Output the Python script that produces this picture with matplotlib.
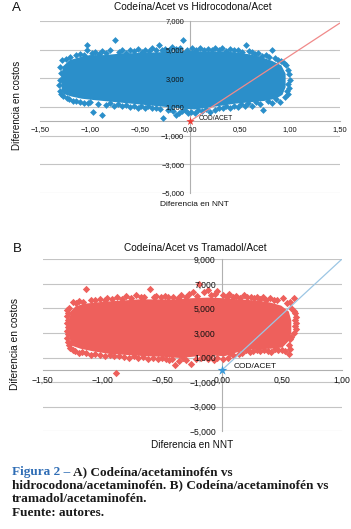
import matplotlib
matplotlib.use("Agg")
import matplotlib.pyplot as plt

# ---------------- data ----------------
# Panel A: Codeína/Acet vs Hidrocodona/Acet (dense core outline + ragged edge / outlier points)
a_core_x = [-1.27, -1.28, -1.26, -1.20, -1.10, -1.00, -0.85, -0.70, -0.50, -0.30, -0.15, 0.00, 0.15, 0.30,
            0.45, 0.60, 0.70, 0.82, 0.91, 0.95, 0.95, 0.92, 0.86, 0.75, 0.60, 0.45, 0.30, 0.15, 0.05, -0.05,
            -0.20, -0.35, -0.50, -0.65, -0.80, -0.95, -1.08, -1.18, -1.25]
a_core_y = [2100, 3000, 3800, 4200, 4400, 4550, 4550, 4650, 4700, 4750, 4800, 4850, 4800, 4800,
            4750, 4600, 4450, 4150, 3850, 3300, 2400, 1900, 1650, 1500, 1400, 1300, 1150, 1000, 900, 950,
            1050, 1150, 1250, 1350, 1450, 1550, 1650, 1800, 1950]
a_pts_x = [-1.28, -1.24, -1.20, -1.14, -1.10, -1.06, -1.03, -1.03, -0.98, -0.95, -0.91, -0.88, -0.84, -0.80,
           -0.75, -0.71, -0.68, -0.64, -0.60, -0.56, -0.52, -0.48, -0.45, -0.41, -0.38, -0.34, -0.31, -0.28,
           -0.25, -0.21, -0.18, -0.14, -0.10, -0.07, -0.03, 0.02, 0.06, 0.10, 0.14, 0.18, 0.22, 0.25, 0.29,
           0.32, 0.36, 0.40, 0.44, 0.48, 0.52, 0.56, 0.59, 0.62, 0.65, 0.68, 0.72, 0.76, 0.79, 0.82, 0.85,
           0.88, 0.91, 0.94, 0.96, 0.98, 0.99, 1.00, 0.98, 0.99, 0.97, 0.98, 0.95, 0.90, 0.86, 0.82, 0.78,
           0.73, 0.70, 0.66, 0.62, 0.58, 0.55, 0.51, 0.48, 0.44, 0.40, 0.36, 0.33, 0.29, 0.25, 0.20, 0.16,
           0.12, 0.08, 0.05, 0.01, -0.02, -0.05, -0.08, -0.11, -0.14, -0.17, -0.20, -0.22, -0.27, -0.30,
           -0.34, -0.38, -0.42, -0.45, -0.49, -0.52, -0.56, -0.60, -0.64, -0.68, -0.72, -0.76, -0.80, -0.84,
           -0.88, -0.92, -0.97, -1.00, -1.02, -1.06, -1.10, -1.14, -1.17, -1.21, -1.23, -1.27, -1.29, -1.30,
           -1.31, -1.30, -1.29, -1.30]
a_pts_y = [4260, 4350, 4500, 4600, 4700, 4650, 4950, 5300, 4750, 4850, 4700, 4900, 4800, 4950,
           5650, 4850, 4950, 4800, 5000, 4900, 5050, 4850, 4950, 4900, 5100, 4950, 5300, 5000,
           5050, 4950, 5200, 5050, 5150, 5650, 5000, 5150, 4950, 5100, 5000, 5050, 4950, 5150, 5000,
           5100, 4900, 5050, 4950, 5000, 4850, 5330, 4900, 4850, 4700, 4750, 4550, 4600, 4500, 4950, 4450,
           4300, 4200, 4050, 3900, 3600, 3300, 2900, 2600, 2300, 2100, 1900, 1700, 1350, 1550, 1300, 1450,
           770, 1200, 1350, 1100, 1250, 1100, 1200, 1000, 1100, 950, 1050, 900, 950, 800, 650, 850,
           700, 800, 550, 650, 600, 800, 750, 600, 420, 700, 850, 800, 260, 850,
           950, 900, 1050, 950, 1100, 900, 1050, 1000, 1150, 1050, 1200, 1100, 1250, 1150,
           420, 1200, 650, 1350, 1300, 1250, 1350, 1400, 1450, 1550, 1650, 1750, 1900, 2100,
           2500, 2900, 3400, 3800]
a_line_x = [0.0, 1.5]
a_line_y = [0, 6840]
a_star = (0.0, 0.0)

# Panel B: Codeína/Acet vs Tramadol/Acet
b_core_x = [-1.26, -1.27, -1.26, -1.22, -1.15, -1.00, -0.85, -0.70, -0.55, -0.40, -0.25, -0.10, 0.00, 0.15,
            0.30, 0.40, 0.49, 0.55, 0.57, 0.57, 0.55, 0.50, 0.40, 0.25, 0.12, 0.02, -0.08, -0.20, -0.35,
            -0.50, -0.65, -0.80, -0.95, -1.08, -1.18, -1.24]
b_core_y = [2100, 3500, 4700, 5100, 5300, 5450, 5550, 5650, 5650, 5650, 5750, 5800, 5750, 5650,
            5550, 5400, 5150, 4700, 4000, 3000, 2400, 1900, 1800, 1750, 1500, 1200, 1250, 1200, 1050,
            1150, 1200, 1300, 1400, 1600, 1800, 2000]
b_pts_x = [-1.28, -1.25, -1.22, -1.20, -1.16, -1.137, -1.10, -1.06, -1.02, -0.98,
           -0.96, -0.92, -0.88, -0.84, -0.80, -0.76, -0.72, -0.68, -0.65, -0.60,
           -0.57, -0.55, -0.51, -0.48, -0.45, -0.41, -0.37, -0.34, -0.30, -0.28,
           -0.24, -0.21, -0.19, -0.15, -0.12, -0.09, -0.06, -0.04, 0.01, 0.04,
           0.06, 0.09, 0.12, 0.15, 0.18, 0.21, 0.24, 0.27, 0.29, 0.32,
           0.34, 0.37, 0.40, 0.43, 0.46, 0.51, 0.54, 0.57, 0.60, 0.58,
           0.60, 0.61, 0.62, 0.61, 0.62, 0.61, 0.62, 0.60, 0.58, 0.57,
           0.56, 0.57, 0.56, 0.53, 0.50, 0.47, 0.44, 0.41, 0.38, 0.35,
           0.32, 0.29, 0.26, 0.23, 0.20, 0.17, 0.14, 0.095, 0.07, 0.05,
           0.01, -0.04, -0.07, -0.10, -0.12, -0.15, -0.18, -0.22, -0.26, -0.30,
           -0.33, -0.36, -0.39, -0.42, -0.44, -0.47, -0.50, -0.54, -0.58, -0.62,
           -0.66, -0.70, -0.74, -0.78, -0.82, -0.86, -0.886, -0.90, -0.94, -0.98,
           -1.02, -1.06, -1.10, -1.14, -1.17, -1.20, -1.23, -1.25, -1.27, -1.28,
           -1.29, -1.30, -1.29, -1.30, -1.29, -1.30, -1.29, -1.30, -1.29, -1.30]
b_pts_y = [5020, 5500, 5450, 5600, 5550, 6560, 5700, 5650, 5800, 5700,
           5830, 5750, 5900, 5800, 6000, 5850, 6100, 5900, 5950, 6560,
           5900, 6050, 5950, 6000, 5900, 5960, 5850, 6100, 5950, 6200,
           6370, 6050, 6970, 6300, 6500, 6100, 6200, 6430, 6100, 5950,
           6150, 5900, 6000, 5850, 6100, 5900, 5950, 5850, 5960, 5800,
           5900, 5700, 5830, 5650, 5700, 5830, 5430, 5500, 5890, 5000,
           4800, 4600, 4300, 4100, 3800, 3600, 3300, 3000, 2700, 2500,
           2000, 1700, 1300, 1500, 1650, 1600, 1700, 1450, 1550, 1600,
           1500, 1650, 1500, 1450, 1600, 1400, 1300, 1220, 1350, 1000,
           900, 1000, 810, 1100, 900, 1050, 1000, 900, 460, 800,
           950, 700, 400, 900, 800, 850, 1000, 850, 950, 900,
           1050, 950, 1100, 1000, 1050, 1150, -220, 1100, 1200, 1100,
           1250, 1300, 1250, 1350, 1450, 1400, 1550, 1600, 1800, 2000,
           2300, 2600, 2900, 3200, 3500, 3800, 4100, 4400, 4600, 4850]
b_line_x = [0.0, 1.0]
b_line_y = [0, 9000]
b_star = (0.0, 0.0)

a_xticks = [-1.5, -1.0, -0.5, 0.0, 0.5, 1.0, 1.5]
a_xlabels = ["\u22121,50", "\u22121,00", "\u22120,50", "0,00", "0,50", "1,00", "1,50"]
b_xticks = [-1.5, -1.0, -0.5, 0.0, 0.5, 1.0]
b_xlabels = ["\u22121,50", "\u22121,00", "\u22120,50", "0,00", "0,50", "1,00"]
a_yticks = [-5000, -3000, -1000, 1000, 3000, 5000, 7000]
a_ylabels = ["\u22125,000", "\u22123,000", "\u22121,000", "1,000", "3,000", "5,000", "7,000"]
b_yticks = [-5000, -3000, -1000, 1000, 3000, 5000, 7000, 9000]
b_ylabels = ["\u22125,000", "\u22123,000", "\u22121,000", "1,000", "3,000", "5,000", "7,000", "9,000"]

# ---------------- figure ----------------
W, H = 351, 529
fig = plt.figure(figsize=(W / 100, H / 100), dpi=100)
SANS = ["Liberation Sans", "DejaVu Sans"]
SERIF = ["Liberation Serif", "DejaVu Serif"]
TXT = "#111111"


def rect(x0, x1, y0, y1):
    return [x0 / W, 1 - y1 / H, (x1 - x0) / W, (y1 - y0) / H]


def make_panel(r, xlim, ylim, xt, xl, yt, yl, fs, padx, pady):
    base = fig.add_axes(r)
    over = fig.add_axes(r)
    for ax in (base, over):
        ax.set_xlim(xlim)
        ax.set_ylim(ylim)
        ax.patch.set_alpha(0)
        for s in ("top", "right"):
            ax.spines[s].set_visible(False)
        ax.spines["left"].set_position(("data", 0))
        ax.spines["bottom"].set_position(("data", 0))
        ax.set_xticks(xt)
        ax.set_yticks(yt)
        ax.tick_params(length=0)
    for s in ("left", "bottom"):
        base.spines[s].set_color("#b0b0b0")
        base.spines[s].set_linewidth(0.8)
        base.spines[s].set_zorder(0.6)
        over.spines[s].set_visible(False)
    base.yaxis.grid(True, color="#c4c4c4", lw=0.8)
    base.set_axisbelow(True)
    base.tick_params(labelleft=False, labelbottom=False)
    over.set_xticklabels(xl, fontsize=fs, color=TXT, family=SANS)
    over.set_yticklabels(yl, fontsize=fs, color=TXT, family=SANS)
    over.tick_params(axis="x", pad=padx)
    over.tick_params(axis="y", pad=pady)
    return base, over


# Panel A
axA, ovA = make_panel(rect(40, 339.5, 21, 193), (-1.5, 1.5), (-5000, 7000),
                      a_xticks, a_xlabels, a_yticks, a_ylabels, 5.4, 3.3, 4.0)
colA = "#2b8fca"
axA.fill(a_core_x, a_core_y, color=colA, lw=1.5, ec=colA, zorder=3)
axA.scatter(a_pts_x, a_pts_y, marker="D", s=12, color=colA, lw=0, zorder=3)
axA.plot(a_line_x, a_line_y, color="#f08a8a", lw=0.9, zorder=4)
axA.scatter([a_star[0]], [a_star[1]], marker="*", s=40, color="#ee3a34", lw=0, zorder=5)
ovA.text(0.09, 230, "COD/ACET", fontsize=4.8, family=SANS, color=TXT, va="center", ha="left")
fig.text(192.5 / W, 1 - 7 / H, "Codeína/Acet vs Hidrocodona/Acet", fontsize=7.3, family=SANS,
         color=TXT, ha="center", va="center")
fig.text(12 / W, 1 - 8 / H, "A", fontsize=9.5, family=SANS, color=TXT, ha="left", va="center")
fig.text(17 / W, 1 - 105 / H, "Diferencia en costos", fontsize=7.1, family=SANS, color=TXT,
         rotation=90, ha="center", va="center")
fig.text(194.7 / W, 1 - 205 / H, "Diferencia en NNT", fontsize=6.0, family=SANS, color=TXT,
         ha="center", va="center")

# Panel B
axB, ovB = make_panel(rect(42.7, 341.7, 259.3, 431.3), (-1.5, 1.0), (-5000, 9000),
                      b_xticks, b_xlabels, b_yticks, b_ylabels, 6.2, 4.2, 4.5)
colB = "#ee605c"
axB.fill(b_core_x, b_core_y, color=colB, lw=1.5, ec=colB, zorder=3)
axB.scatter(b_pts_x, b_pts_y, marker="D", s=14, color=colB, lw=0, zorder=3)
axB.plot(b_line_x, b_line_y, color="#9cc6e4", lw=0.9, zorder=4)
axB.scatter([b_star[0]], [b_star[1]], marker="*", s=55, color="#3a9ad9", lw=0, zorder=5)
ovB.text(0.095, 270, "COD/ACET", fontsize=6.0, family=SANS, color=TXT, va="center", ha="left")
fig.text(195.3 / W, 1 - 247.7 / H, "Codeína/Acet vs Tramadol/Acet", fontsize=7.3, family=SANS,
         color=TXT, ha="center", va="center")
fig.text(13 / W, 1 - 249 / H, "B", fontsize=9.5, family=SANS, color=TXT, ha="left", va="center")
fig.text(15 / W, 1 - 344 / H, "Diferencia en costos", fontsize=7.3, family=SANS, color=TXT,
         rotation=90, ha="center", va="center")
fig.text(192.5 / W, 1 - 445 / H, "Diferencia en NNT", fontsize=7.2, family=SANS, color=TXT,
         ha="center", va="center")

# Caption
cap_fs = 9.5
cap_x = 12 / W
t1 = fig.text(cap_x, 1 - 472 / H, "Figura 2 \u2013", fontsize=cap_fs, family=SERIF, weight="bold",
              color="#2f6db5", ha="left", va="center")
fig.canvas.draw()
bb = t1.get_window_extent(renderer=fig.canvas.get_renderer())
fig.text(bb.x1 / W + 3 / W, 1 - 472 / H, "A) Codeína/acetaminofén vs", fontsize=cap_fs, family=SERIF,
         weight="bold", color="#1a1a1a", ha="left", va="center")
fig.text(cap_x, 1 - 485.5 / H, "hidrocodona/acetaminofén. B) Codeína/acetaminofén vs", fontsize=cap_fs,
         family=SERIF, weight="bold", color="#1a1a1a", ha="left", va="center")
fig.text(cap_x, 1 - 499 / H, "tramadol/acetaminofén.", fontsize=cap_fs, family=SERIF, weight="bold",
         color="#1a1a1a", ha="left", va="center")
fig.text(cap_x, 1 - 512.5 / H, "Fuente: autores.", fontsize=cap_fs, family=SERIF, weight="bold",
         color="#1a1a1a", ha="left", va="center")

fig.savefig("out.png", dpi=100)
